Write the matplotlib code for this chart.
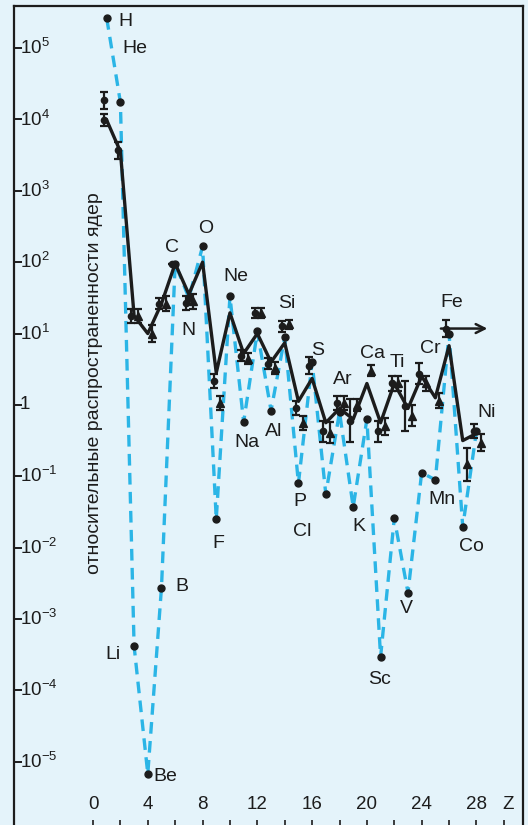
import numpy as np
import matplotlib.pyplot as plt
from matplotlib import transforms

plt.rcParams['font.family'] = ['Liberation Sans', 'DejaVu Sans']
plt.rcParams['mathtext.fontset'] = 'custom'
plt.rcParams['mathtext.rm'] = 'Liberation Sans'
plt.rcParams['mathtext.default'] = 'regular'

# element symbols, Z = 1..28
elements = ['H', 'He', 'Li', 'Be', 'B', 'C', 'N', 'O', 'F', 'Ne', 'Na', 'Mg', 'Al', 'Si',
            'P', 'S', 'Cl', 'Ar', 'K', 'Ca', 'Sc', 'Ti', 'V', 'Cr', 'Mn', 'Fe', 'Co', 'Ni']
z = np.arange(1, 29)

# solar system abundances (log10), blue dashed line
solar_log = [5.42, 4.24, -3.38, -5.17, -2.56, 1.98, 1.50, 2.22, -1.60, 1.52, -0.24, 1.03,
             -0.08, 0.95, -1.10, 0.60, -1.25, -0.10, -1.43, -0.20, -3.53, -1.59, -2.63,
             -0.95, -1.05, 1.00, -1.71, -0.37]

# cosmic ray abundances (log10), black solid line
cr_log = [3.99, 3.55, 1.25, 1.00, 1.42, 1.98, 1.55, 2.00, 0.45, 1.29, 0.72, 1.00, 0.60,
          0.87, 0.05, 0.37, -0.25, -0.05, -0.20, 0.30, -0.25, 0.30, -0.05, 0.40, 0.10,
          0.83, -0.50, -0.40]

# measurements, circles with error bars (log10, +- decades)
circ_z = [1, 1, 2, 3, 5, 6, 7, 9, 11, 12, 13, 14, 15, 16, 17, 18, 19, 21, 22, 23, 24, 26, 28]
circ_log = [4.27, 3.99, 3.57, 1.25, 1.42, 1.98, 1.43, 0.34, 0.69, 1.29, 0.58, 1.10, -0.04,
            0.55, -0.37, 0.03, -0.22, -0.37, 0.30, -0.01, 0.44, 1.07, -0.37]
circ_err = [0.12, 0.08, 0.12, 0.10, 0.08, 0.0, 0.10, 0.10, 0.08, 0.07, 0.08, 0.08, 0.10,
            0.12, 0.15, 0.10, 0.30, 0.15, 0.10, 0.35, 0.15, 0.12, 0.10]

# measurements, triangles with error bars
tri_z = [3, 4, 5, 7, 9, 11, 12, 13, 14, 15, 17, 18, 19, 20, 21, 22, 23, 24, 25, 27, 28]
tri_log = [1.25, 1.00, 1.42, 1.45, 0.03, 0.65, 1.29, 0.52, 1.13, -0.25, -0.39, 0.03, 0.00,
           0.48, -0.30, 0.30, -0.15, 0.30, 0.06, -0.83, -0.53]
tri_err = [0.10, 0.12, 0.10, 0.10, 0.10, 0.08, 0.07, 0.08, 0.06, 0.10, 0.15, 0.10, 0.08,
           0.08, 0.12, 0.10, 0.15, 0.10, 0.10, 0.23, 0.12]

ytick_exp = list(range(-5, 6))
xtick_lab = [0, 4, 8, 12, 16, 20, 24, 28]

# label positions (Z, log10)
label_pos = {
    'H': (2.34, 5.37), 'He': (3.07, 5.0), 'Li': (1.46, -3.5), 'Be': (5.26, -5.21),
    'B': (6.5, -2.54), 'C': (5.77, 2.2), 'N': (7.0, 1.04), 'O': (8.25, 2.47),
    'F': (9.12, -1.94), 'Ne': (10.4, 1.8), 'Na': (11.24, -0.53), 'Al': (13.2, -0.37),
    'Si': (14.16, 1.42), 'P': (15.1, -1.35), 'S': (16.4, 0.76), 'Cl': (15.25, -1.77),
    'Ar': (18.25, 0.35), 'K': (19.4, -1.7), 'Ca': (20.4, 0.72), 'Ti': (22.26, 0.59),
    'Cr': (24.6, 0.79), 'Fe': (26.2, 1.43), 'Mn': (25.5, -1.32), 'Co': (27.66, -1.98),
    'Ni': (28.76, -0.11), 'Sc': (20.95, -3.85), 'V': (22.9, -2.85),
}

bg = '#e4f3fa'
blue = '#2bb5e6'
ink = '#1c1c1c'

fig = plt.figure(figsize=(5.28, 8.25), dpi=100, facecolor=bg)
ax = fig.add_axes([14 / 528, -0.002, 509 / 528, 1 - 6 / 825 + 0.002], facecolor=bg)
ax.set_yscale('log')
ax.set_xlim(-5.77, 31.4)
ax.set_ylim(10 ** -5.91, 10 ** 5.59)

solar = 10 ** np.array(solar_log)
ax.plot(z, solar, color=blue, lw=2.4, ls=(0, (3.5, 2.2)), zorder=1)
ax.plot(z, solar, 'o', color=ink, ms=5, zorder=4)

ax.plot(z, 10 ** np.array(cr_log), color=ink, lw=2.4, zorder=2)

def err_points(zz, lg, er, marker, dx, ms):
    lg = np.array(lg)
    er = np.array(er)
    y = 10 ** lg
    yerr = [y - 10 ** (lg - er), 10 ** (lg + er) - y]
    ax.errorbar(np.array(zz) + dx, y, yerr=yerr, fmt=marker, color=ink, ms=ms,
                elinewidth=1.6, capsize=3, capthick=1.6, zorder=3)

err_points(circ_z, circ_log, circ_err, 'o', -0.2, 4.5)
err_points(tri_z, tri_log, tri_err, '^', 0.3, 5.5)

# Fe arrow
fe_i = circ_z.index(26)
fe_y = 10 ** circ_log[fe_i]
ax.annotate('', xy=(26 + 3.0, fe_y), xytext=(26 - 0.8, fe_y),
            arrowprops=dict(arrowstyle='->', color=ink, lw=1.8, mutation_scale=16), zorder=5)

for el, (lx, ly) in label_pos.items():
    ax.text(lx, 10 ** ly, el, fontsize=14, color=ink, ha='center', va='center', zorder=6)

# axes styling
ax.spines['bottom'].set_visible(False)
for s in ['left', 'top', 'right']:
    ax.spines[s].set_color(ink)
    ax.spines[s].set_linewidth(1.6)
ax.set_yticks([10.0 ** e for e in ytick_exp])
ax.set_yticklabels([])
ax.yaxis.set_minor_locator(plt.NullLocator())
ax.tick_params(axis='y', direction='in', length=6, width=1.4, color=ink)
ax.set_xticks(np.arange(0, 31, 2))
ax.set_xticklabels([])
ax.tick_params(axis='x', direction='in', length=5, width=1.2, color=ink)

ytr = transforms.blended_transform_factory(ax.transAxes, ax.transData)
for e in ytick_exp:
    lab = '1' if e == 0 else r'$10^{%d}$' % e
    ax.text(0.012, 10.0 ** e, lab, transform=ytr, fontsize=13.5, color=ink,
            ha='left', va='center')

xtr = transforms.blended_transform_factory(ax.transData, ax.transAxes)
for v in xtick_lab:
    ax.text(v, 0.027, str(v), transform=xtr, fontsize=13.5, color=ink, ha='center', va='center')
ax.text(30.3, 0.027, 'Z', transform=xtr, fontsize=13.5, color=ink, ha='center', va='center')

ax.text(0.159, 0.54, 'относительные распространенности ядер', transform=ax.transAxes,
        rotation=90, fontsize=14, color=ink, ha='center', va='center')

fig.savefig('out.png', dpi=100, facecolor=bg)
